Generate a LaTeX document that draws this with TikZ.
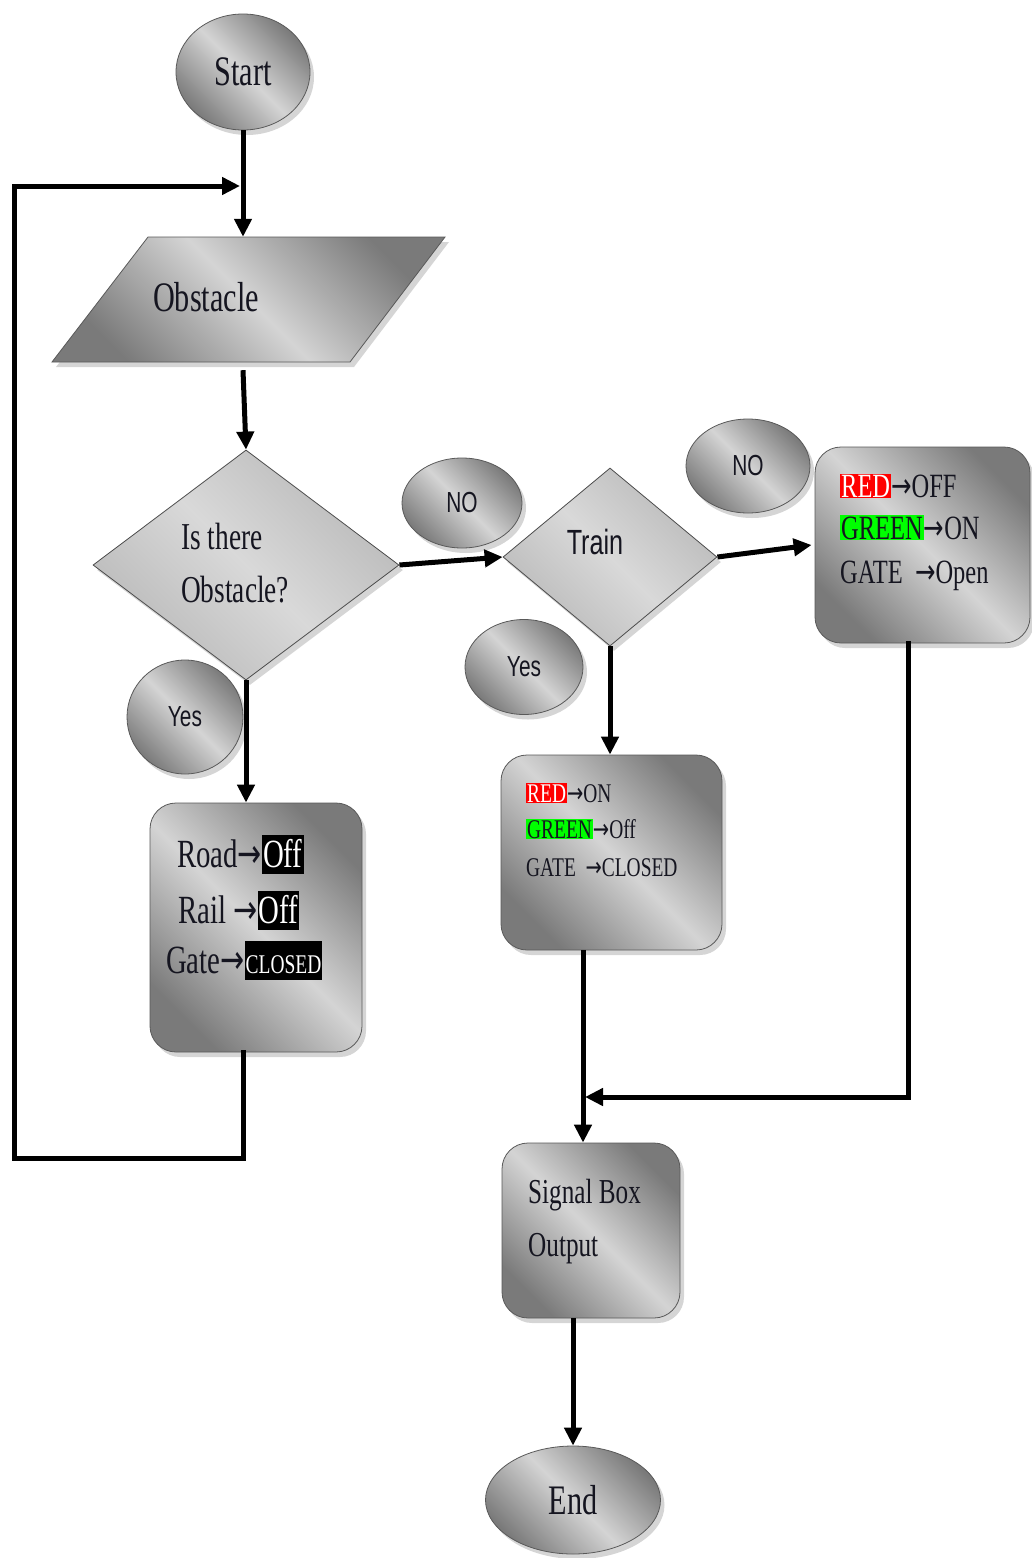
\documentclass[tikz,border=0pt]{standalone}
\usepackage{fontspec}
\setmainfont{Liberation Serif}[FakeStretch=0.72]
\newfontfamily\labelfont{Liberation Sans}[FakeStretch=0.72]
\newfontfamily\arrowfont{DejaVu Sans}
\usetikzlibrary{shapes.geometric,shadows,arrows.meta,calc}

\definecolor{shdark}{HTML}{7A7A7A}
\definecolor{shlight}{HTML}{D4D4D4}
\definecolor{hlgreen}{HTML}{00FF00}
\definecolor{inkc}{HTML}{151520}

% arrow glyph used in the state tables
\newcommand\arr{{\arrowfont\scalebox{0.72}[1]{→}}}
\newcommand\onred[1]{{\setlength\fboxsep{1pt}\colorbox{red}{\textcolor{white}{#1}}}}
\newcommand\ongreen[1]{{\setlength\fboxsep{1pt}\colorbox{hlgreen}{#1}}}
\newcommand\onblack[1]{{\setlength\fboxsep{1pt}\colorbox{black}{\textcolor{white}{\rule[-6pt]{0pt}{37pt}#1}}}}

\tikzset{
  x=1pt, y=-1pt,
  shaded/.style={top color=shdark, bottom color=shdark, middle color=shlight,
    shading angle=-45, draw=gray!70!black, line width=0.8pt},
  softshadow/.style={drop shadow={shadow xshift=4pt, shadow yshift=-5pt,
    fill=gray!55, opacity=0.6}},
  terminal/.style={ellipse, shaded, softshadow, inner sep=0pt, text=inkc,
    font=\fontsize{42}{48}\selectfont},
  answer/.style={ellipse, shaded, softshadow, inner sep=0pt, text=inkc,
    font=\labelfont\fontsize{29}{34}\selectfont},
  procbox/.style={rectangle, rounded corners=26pt, shaded, softshadow, inner sep=0pt},
  decision/.style={diamond, inner sep=0pt, draw=gray!60!black, line width=0.8pt,
    top color=gray!55, bottom color=gray!55, middle color=gray!30, shading angle=-45,
    softshadow},
  txt/.style={text=inkc, inner sep=0pt, anchor=base west},
  flow/.style={line width=5pt, -{Triangle[length=18pt,width=17pt]}},
  plainline/.style={line width=5pt, line cap=rect},
}

\begin{document}
\begin{tikzpicture}
\useasboundingbox (0,0) rectangle (1032,1558);

% terminals
\node[terminal, minimum width=134pt, minimum height=116pt] (start) at (243,72) {Start};
\node[terminal, minimum width=175pt, minimum height=108pt] (end) at (573,1500) {End};

% input parallelogram
\path[shaded, softshadow] (148,237) -- (445,237) -- (350,362) -- (52,362) -- cycle;
\node[minimum width=200pt, minimum height=125pt, inner sep=0pt] (obs) at (243,299.5) {};
\node[text=inkc, font=\fontsize{42}{48}\selectfont, inner sep=0pt] (obstxt) at (206,297) {Obstacle};

% decisions
\node[decision, minimum width=306pt, minimum height=230pt] (dia1) at (246,565) {};
\node[txt, font=\fontsize{38}{44}\selectfont] (q1) at (181,549) {Is there};
\node[txt, font=\fontsize{38}{44}\selectfont] (q2) at (181,602) {Obstacle?};

\node[decision, minimum width=214pt, minimum height=178pt] (dia2) at (610,557) {};
\node[text=inkc, inner sep=0pt, font=\labelfont\fontsize{35}{40}\selectfont] (train) at (595,542) {Train};

% answer bubbles
\node[answer, minimum width=120pt, minimum height=90pt] (no1) at (462,503) {NO};
\node[answer, minimum width=118pt, minimum height=95pt] (yes2) at (524,667) {Yes};
\node[answer, minimum width=124pt, minimum height=94pt] (no2) at (748,466) {NO};
\node[answer, minimum width=116pt, minimum height=114pt] (yes1) at (185,717) {Yes};

% process boxes
\node[procbox, minimum width=212pt, minimum height=249pt] (road) at (256,927.5) {};
\node[txt, font=\fontsize{40}{46}\selectfont] (r1) at (177,867) {Road\arr\onblack{Off}};
\node[txt, font=\fontsize{40}{46}\selectfont] (r2) at (178,923) {Rail \arr\onblack{Off}};
\node[txt, font=\fontsize{40}{46}\selectfont] (r3) at (166,973) {Gate\arr\onblack{\fontsize{27}{30}\selectfont CLOSED}};

\node[procbox, minimum width=221pt, minimum height=195pt] (stop) at (611.5,852.5) {};
\node[txt, font=\fontsize{27}{32}\selectfont] (s1) at (526,802) {\onred{RED}\arr ON};
\node[txt, font=\fontsize{27}{32}\selectfont] (s2) at (526,838) {\ongreen{GREEN}\arr Off};
\node[txt, font=\fontsize{27}{32}\selectfont] (s3) at (526,876) {GATE~~\arr CLOSED};

\node[procbox, minimum width=215pt, minimum height=196pt] (go) at (922.5,545) {};
\node[txt, font=\fontsize{34}{40}\selectfont] (g1) at (840,497) {\onred{RED}\arr OFF};
\node[txt, font=\fontsize{34}{40}\selectfont] (g2) at (840,539) {\ongreen{GREEN}\arr ON};
\node[txt, font=\fontsize{34}{40}\selectfont] (g3) at (840,583) {GATE~~\arr Open};

\node[procbox, minimum width=178pt, minimum height=175pt] (sig) at (591,1230.5) {};
\node[txt, font=\fontsize{35}{40}\selectfont] (o1) at (528,1203) {Signal Box};
\node[txt, font=\fontsize{35}{40}\selectfont] (o2) at (528,1256) {Output};

% junction points of the connectors
\coordinate (loopin) at (243,186);
\coordinate (merge) at (583,1097);

% connectors
\draw[flow] (start.south) -- (start.south |- obs.north);
\draw[flow] ([yshift=-8pt]obs.south) -- (dia1.north);
\draw[flow] (dia1.east) -- (dia2.west);
\draw[flow] (dia2.east) -- ([xshift=-3pt]go.west);
\draw[flow] (dia1.south) -- (dia1.south |- road.north);
\draw[flow] (dia2.south) -- (dia2.south |- stop.north);
\draw[plainline] (road.south -| loopin) -- (243,1158) -- (14,1158) -- (14,186);
\draw[flow] (14,186) -- ([xshift=-3pt]loopin);
\draw[flow] (stop.south -| merge) -- (merge |- sig.north);
\draw[plainline] ([xshift=-14.5pt]go.south) -- ([xshift=-14.5pt]go.south |- merge);
\draw[flow] ([xshift=-14.5pt]go.south |- merge) -- ([xshift=2pt]merge);
\draw[flow] (sig.south -| end.north) -- (end.north);
\end{tikzpicture}
\end{document}
